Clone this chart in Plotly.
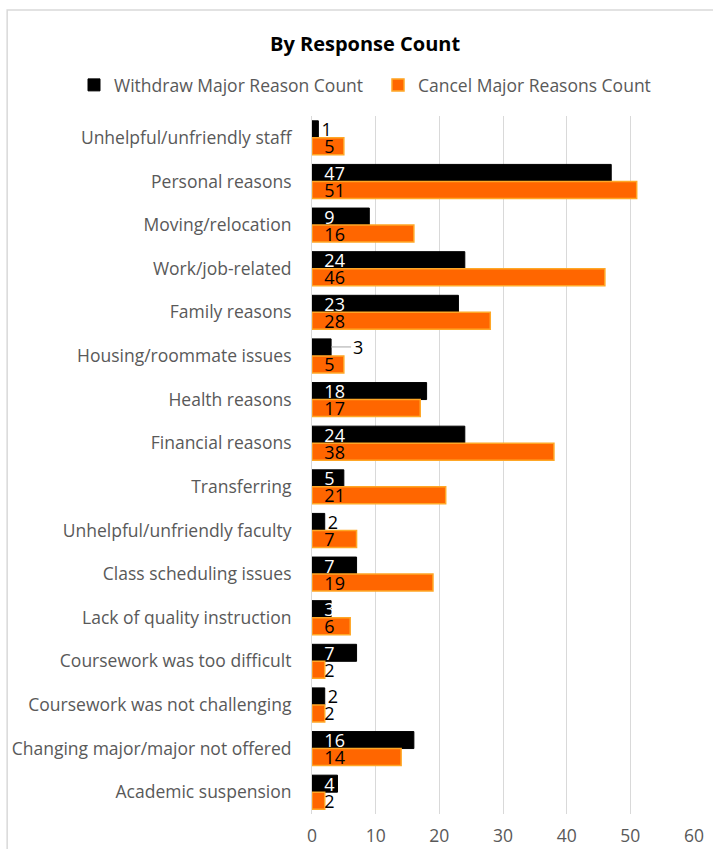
import plotly.graph_objects as go

categories = [
    "Unhelpful/unfriendly staff",
    "Personal reasons",
    "Moving/relocation",
    "Work/job-related",
    "Family reasons",
    "Housing/roommate issues",
    "Health reasons",
    "Financial reasons",
    "Transferring",
    "Unhelpful/unfriendly faculty",
    "Class scheduling issues",
    "Lack of quality instruction",
    "Coursework was too difficult",
    "Coursework was not challenging",
    "Changing major/major not offered",
    "Academic suspension",
]
withdraw = [1, 47, 9, 24, 23, 3, 18, 24, 5, 2, 7, 3, 7, 2, 16, 4]
cancel = [5, 51, 16, 46, 28, 5, 17, 38, 21, 7, 19, 6, 2, 2, 14, 2]
x_ticks = [0, 10, 20, 30, 40, 50, 60]

FONT = "Open Sans"
GRAY = "#595959"
W, H = 713, 849
LBL = 18

w_text = ["" if c == "Housing/roommate issues" else str(v) for c, v in zip(categories, withdraw)]
w_pos = ["outside" if v <= 2 else "inside" for v in withdraw]
w_tmpl = ["%{text}" if v <= 2 else "  %{text}" for v in withdraw]
w_colors = ["black" if v <= 2 else "white" for v in withdraw]

fig = go.Figure()
fig.add_trace(go.Bar(
    y=categories, x=withdraw, orientation="h", name="Withdraw Major Reason Count",
    marker=dict(color="black", line=dict(color="black", width=1)),
    text=w_text, textposition=w_pos, insidetextanchor="start", constraintext="none",
    textangle=0, textfont=dict(color=w_colors, size=LBL, family=FONT),
    texttemplate=w_tmpl, cliponaxis=False, legend="legend", showlegend=True,
))
fig.add_trace(go.Bar(
    y=categories, x=cancel, orientation="h", name="Cancel Major Reasons Count",
    marker=dict(color="#FF6600", line=dict(color="#FFA726", width=1.5)),
    text=[str(v) for v in cancel], textposition="inside", insidetextanchor="start",
    constraintext="none", textangle=0, textfont=dict(color="black", size=LBL, family=FONT),
    texttemplate="  %{text}", legend="legend2", showlegend=True,
))

# outside label with leader line for housing
hi = categories.index("Housing/roommate issues")
fig.add_annotation(
    x=withdraw[hi], y=categories[hi], text=str(withdraw[hi]), showarrow=True,
    arrowhead=0, arrowwidth=1, arrowcolor="#A6A6A6", ax=20, ay=0, yshift=9,
    xanchor="left", font=dict(size=LBL, family=FONT, color="black"),
)

# chart border
fig.add_shape(type="rect", xref="paper", yref="paper",
              x0=-0.798, x1=1.08, y0=-0.08, y1=1.152,
              line=dict(color="#D9D9D9", width=1.5), fillcolor="rgba(0,0,0,0)", layer="below")

legend_common = dict(orientation="h", xref="container", yref="container",
                     xanchor="left", y=1 - 85 / H, yanchor="middle",
                     font=dict(size=17.5, color=GRAY, family=FONT),
                     itemwidth=30, bgcolor="rgba(0,0,0,0)")

fig.update_layout(
    width=W, height=H, showlegend=True,
    margin=dict(l=312, r=19, t=116, b=35),
    paper_bgcolor="white", plot_bgcolor="white",
    barmode="group", bargap=0.22, bargroupgap=0,
    font=dict(family=FONT, color=GRAY, size=17.5),
    title=dict(text="<b>By Response Count</b>", x=0.512, xanchor="center",
               y=1 - 44 / H, yanchor="middle",
               font=dict(size=20, color="black", family=FONT)),
    legend=dict(x=74 / W, **legend_common),
    legend2=dict(x=378 / W, **legend_common),
    xaxis=dict(range=[0, 60], tickvals=x_ticks, showgrid=True, gridcolor="#D9D9D9",
               gridwidth=1, zeroline=False, showline=False, ticks="",
               ticklabelstandoff=9, automargin=False, tickfont=dict(size=17.5, color=GRAY)),
    yaxis=dict(autorange="reversed", showgrid=False, zeroline=False,
               showline=True, linecolor="#D9D9D9", ticks="", automargin=False,
               ticklabelstandoff=16, tickfont=dict(size=17.5, color=GRAY)),
)

fig.write_html("out.html", config={"displayModeBar": False},
               post_script="document.body.style.margin='0';")
